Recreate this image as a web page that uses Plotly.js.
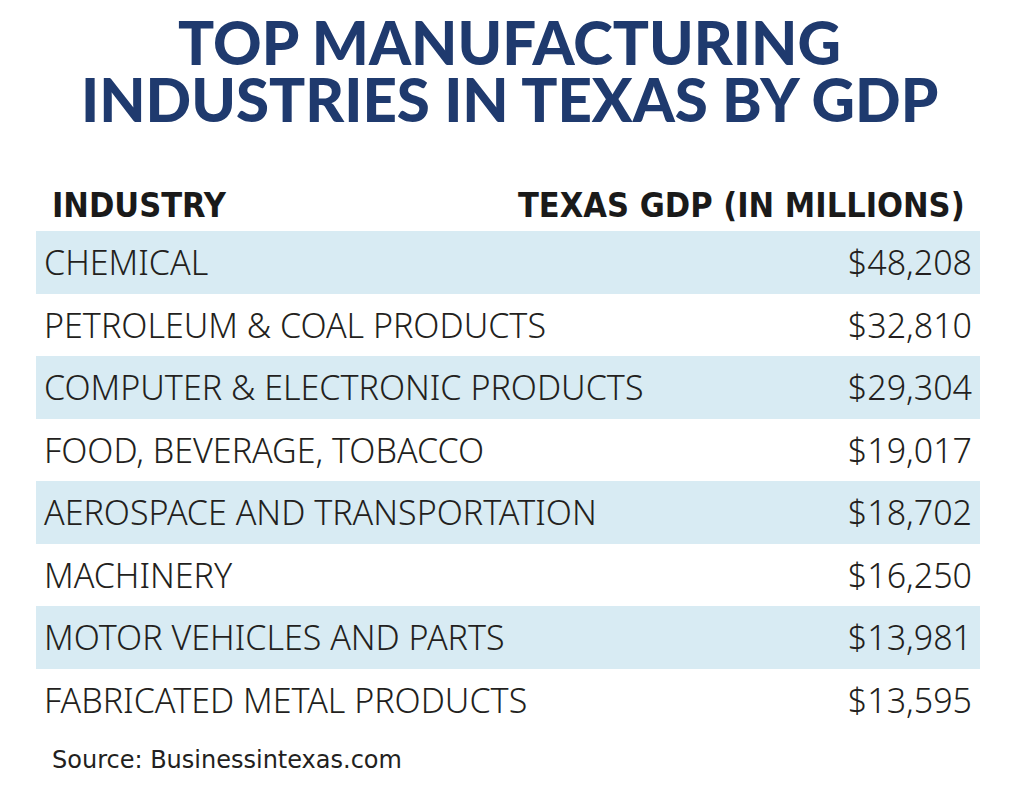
<!DOCTYPE html>
<html>
<head>
<meta charset="utf-8">
<script src="https://cdn.plot.ly/plotly-3.0.1.min.js"></script>
<style>html,body{margin:0;padding:0;background:#fff;}</style>
</head>
<body>
<div id="chart" style="width:1018px;height:792px;"></div>
<script>
const headers = ["INDUSTRY", "TEXAS GDP (IN MILLIONS)"];
const industries = [
  "CHEMICAL",
  "PETROLEUM & COAL PRODUCTS",
  "COMPUTER & ELECTRONIC PRODUCTS",
  "FOOD, BEVERAGE, TOBACCO",
  "AEROSPACE AND TRANSPORTATION",
  "MACHINERY",
  "MOTOR VEHICLES AND PARTS",
  "FABRICATED METAL PRODUCTS"
];
const gdpMillions = [48208, 32810, 29304, 19017, 18702, 16250, 13981, 13595];
const titleLines = ["TOP MANUFACTURING", "INDUSTRIES IN TEXAS BY GDP"];
const sourceText = "Source: Businessintexas.com";

const bodyFont = "Noto Sans, DejaVu Sans Condensed, sans-serif";
const headFont = "DejaVu Sans Condensed, DejaVu Sans, sans-serif";
const band = "#d8ebf3";
const fills = industries.map((_, i) => i % 2 === 0 ? band : "#ffffff");
// a trailing <br> keeps each label on one line; the larger base font size pushes the baseline down to centre it in the row
const cellText = s => '<span style="font-size:34px">' + s + '</span><br>';
const gdpText = gdpMillions.map(v => cellText("$" + v.toLocaleString("en-US")));
const industryText = industries.map(cellText);

const trace = {
  type: "table",
  domain: {x: [36/1018, 980/1018], y: [1 - 740/792, 1 - 215/792]},
  columnwidth: [640, 304],
  header: {values: [], height: 0, line: {width: 0, color: "#ffffff"}, fill: {color: "#ffffff"}},
  cells: {
    values: [industryText, gdpText],
    align: ["left", "right"],
    height: 62.5,
    fill: {color: [fills, fills]},
    line: {width: 0, color: "#ffffff"},
    font: {family: bodyFont, size: 62, color: "#231f20", weight: 300}
  }
};

const layout = {
  width: 1018,
  height: 792,
  margin: {l: 0, r: 0, t: 0, b: 0},
  paper_bgcolor: "#ffffff",
  showlegend: false,
  annotations: [
    {text: titleLines[0], x: 0.5, y: 1 - 42/792, xref: "paper", yref: "paper",
     xanchor: "center", yanchor: "middle", showarrow: false,
     font: {family: "Lato, Open Sans, sans-serif", size: 60, color: "#1f3a6e", weight: 900}},
    {text: titleLines[1], x: 0.5, y: 1 - 99/792, xref: "paper", yref: "paper",
     xanchor: "center", yanchor: "middle", showarrow: false,
     font: {family: "Lato, Open Sans, sans-serif", size: 60, color: "#1f3a6e", weight: 900}},
    {text: headers[0], x: 50/1018, y: 1 - 205/792, xref: "paper", yref: "paper",
     xanchor: "left", yanchor: "middle", showarrow: false,
     font: {family: headFont, size: 34, color: "#1a1a1a", weight: "bold"}},
    {text: headers[1], x: 967/1018, y: 1 - 205/792, xref: "paper", yref: "paper",
     xanchor: "right", yanchor: "middle", showarrow: false,
     font: {family: headFont, size: 34, color: "#1a1a1a", weight: "bold"}},
    {text: sourceText, x: 50/1018, y: 1 - 760/792, xref: "paper", yref: "paper",
     xanchor: "left", yanchor: "middle", showarrow: false,
     font: {family: "DejaVu Sans, sans-serif", size: 24, color: "#231f20"}}
  ]
};

Plotly.newPlot("chart", [trace], layout, {displayModeBar: false, staticPlot: true});
</script>
</body>
</html>
